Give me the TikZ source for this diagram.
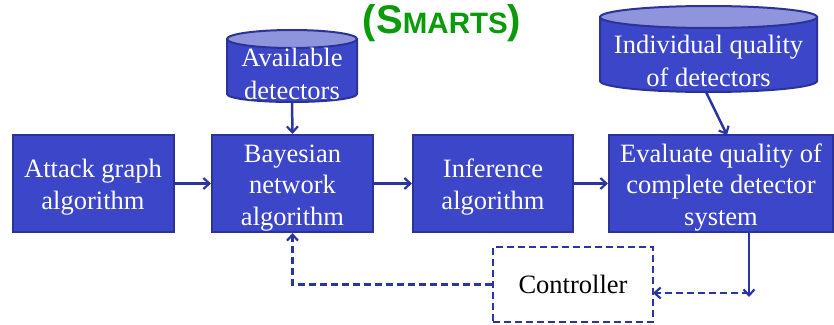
\documentclass[tikz,border=0pt]{standalone}
\usepackage{fontspec}
\setmainfont{Liberation Serif}
\newfontfamily\titlefont{Liberation Sans}
\usetikzlibrary{arrows.meta}
\definecolor{boxfill}{HTML}{3C46C8}
\definecolor{boxline}{HTML}{2B3399}
\definecolor{cylTop}{HTML}{8F95DD}
\definecolor{arrowcol}{HTML}{2B35A0}
\definecolor{titlegreen}{HTML}{0A9A0A}
\newcommand\mytopstrut{\rule{0pt}{26pt}}
\tikzset{
  procbox/.style={draw=boxline, fill=boxfill, line width=2pt, text=white,
    font=\fontsize{26.5}{31.5}\selectfont, align=center, inner sep=0pt},
  cyltext/.style={text=white, font=\fontsize{26.5}{33}\selectfont, align=center, inner sep=0pt},
  conn/.style={draw=arrowcol, line width=2.5pt, -{Straight Barb[length=6pt,width=11pt,line width=2.2pt]}},
  dconn/.style={conn, dash pattern=on 7pt off 4pt},
}
\begin{document}
\begin{tikzpicture}[x=1pt,y=-1pt]
\useasboundingbox (0,0) rectangle (834,324);
% title
\node[anchor=base, text=titlegreen, inner sep=0pt] (title) at (442,33)
  {\titlefont\bfseries\fontsize{40}{44}\selectfont (S{\fontsize{29.5}{33}\selectfont MARTS})};
% cylinder 1
\path[draw=boxline, line width=2pt, fill=boxfill]
  (227,39) -- (227,94) arc[start angle=180, end angle=360, x radius=65, y radius=-8] -- (357,39) -- cycle;
\path[draw=boxline, line width=2pt, fill=cylTop] (292,39) ellipse[x radius=65, y radius=9];
\node[cyltext] (avail) at (292,74) {Available\\detectors};
\coordinate (availbot) at (292,102);
% cylinder 2
\path[draw=boxline, line width=2pt, fill=boxfill]
  (600,17) -- (600,81) arc[start angle=180, end angle=360, x radius=108.5, y radius=-11] -- (817,17) -- cycle;
\path[draw=boxline, line width=2pt, fill=cylTop] (708.5,17) ellipse[x radius=108.5, y radius=11];
\node[cyltext] (indiv) at (708.5,61) {Individual quality\\of detectors};
\coordinate (indivbot) at (706,92);
% boxes
\node[procbox, minimum width=161pt, minimum height=97pt] (attack) at (93,183.5) {\mytopstrut Attack graph\\algorithm};
\node[procbox, minimum width=161pt, minimum height=97pt] (bayes) at (292.5,183.5) {\mytopstrut Bayesian\\network\\algorithm};
\node[procbox, minimum width=160pt, minimum height=97pt] (infer) at (493,183.5) {\mytopstrut Inference\\algorithm};
\node[procbox, minimum width=224pt, minimum height=97pt] (eval) at (721,183.5) {\mytopstrut Evaluate quality of\\complete detector\\system};
% controller
\node[draw=arrowcol, line width=2.5pt, dash pattern=on 7pt off 4pt, minimum width=160pt, minimum height=75pt,
  font=\fontsize{26.5}{30}\selectfont, inner sep=0pt] (ctrl) at (573,284.5) {Controller};
% connectors
\draw[conn] (availbot) -- (bayes.north);
\coordinate (evaltop) at (727,135);
\draw[conn] (indivbot) -- (evaltop);
\draw[conn] (attack) -- (bayes);
\draw[conn] (bayes) -- (infer);
\draw[conn] (infer) -- (eval);
\coordinate (evalbot) at (749,232);
\coordinate (evaldown) at (749,297);
\coordinate (dashstart) at (749,293);
\coordinate (ctrlin) at (653,293);
\draw[conn] (evalbot) -- (evaldown);
\draw[dconn] (dashstart) -- (ctrlin);
\draw[dconn] (ctrl.west) -| (bayes.south);
\end{tikzpicture}
\end{document}
